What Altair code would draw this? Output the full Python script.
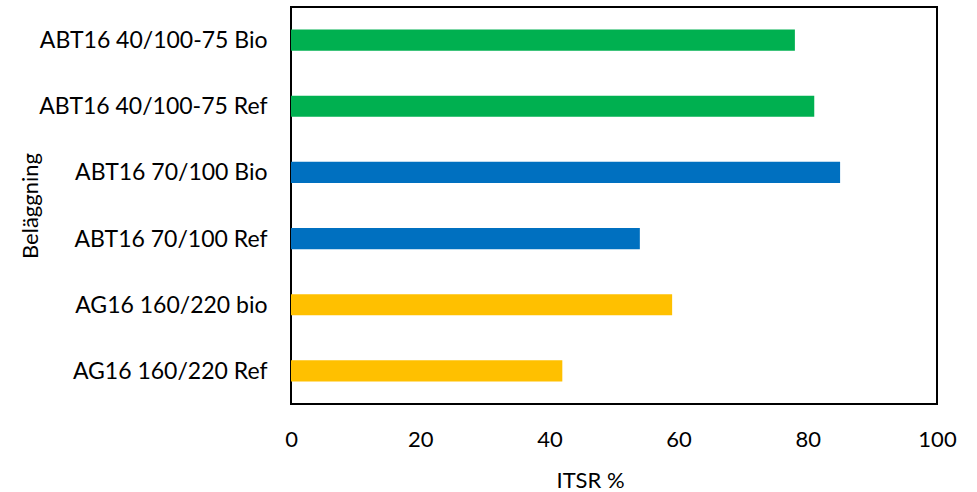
import altair as alt
import pandas as pd

# Coatings, top to bottom, with their ITSR values (%)
coatings = [
    "ABT16 40/100-75 Bio",
    "ABT16 40/100-75 Ref",
    "ABT16 70/100 Bio",
    "ABT16 70/100 Ref",
    "AG16 160/220 bio",
    "AG16 160/220 Ref",
]
itsr_values = [78, 81, 85, 54, 59, 42]
mix_groups = [
    "ABT16 40/100-75",
    "ABT16 40/100-75",
    "ABT16 70/100",
    "ABT16 70/100",
    "AG16 160/220",
    "AG16 160/220",
]
group_names = ["ABT16 40/100-75", "ABT16 70/100", "AG16 160/220"]
group_colors = ["#00B050", "#0070C0", "#FFC000"]
x_ticks = [0, 20, 40, 60, 80, 100]

df = pd.DataFrame({"coating": coatings, "itsr": itsr_values, "group": mix_groups})

FONT = "Lato"
SIZE = 22

chart = (
    alt.Chart(df)
    .mark_bar()
    .encode(
        y=alt.Y(
            "coating:N",
            sort=coatings,
            scale=alt.Scale(paddingInner=0.68, paddingOuter=0.34),
            axis=alt.Axis(
                title="Beläggning",
                ticks=False,
                domain=False,
                labelFont=FONT,
                labelFontSize=23,
                labelColor="black",
                labelPadding=24,
                labelOffset=1,
                labelLimit=400,
                titleFont=FONT,
                titleFontSize=SIZE,
                titleFontWeight="normal",
                titleColor="black",
                titleAngle=-90,
                titleAlign="center",
                titleBaseline="middle",
                titleX=-261,
                titleY=198.5,
            ),
        ),
        x=alt.X(
            "itsr:Q",
            scale=alt.Scale(domain=[0, 100], nice=False),
            axis=alt.Axis(
                title="ITSR %",
                values=x_ticks,
                grid=False,
                ticks=False,
                domain=False,
                labelFont=FONT,
                labelFontSize=SIZE,
                labelColor="black",
                labelPadding=25,
                labelFlush=False,
                titleFont=FONT,
                titleFontSize=SIZE,
                titleFontWeight="normal",
                titleColor="black",
                titleAlign="center",
                titleBaseline="alphabetic",
                titleX=299,
                titleY=83,
            ),
        ),
        color=alt.Color(
            "group:N",
            scale=alt.Scale(domain=group_names, range=group_colors),
            legend=None,
        ),
    )
    .properties(
        width=646,
        height=397,
        padding={"left": 291, "top": 7, "right": 40, "bottom": 88},
        autosize="none",
        background="white",
    )
    .configure_view(stroke="black", strokeWidth=2)
)

chart.save("out.html", embed_options={"renderer": "svg", "actions": False})
